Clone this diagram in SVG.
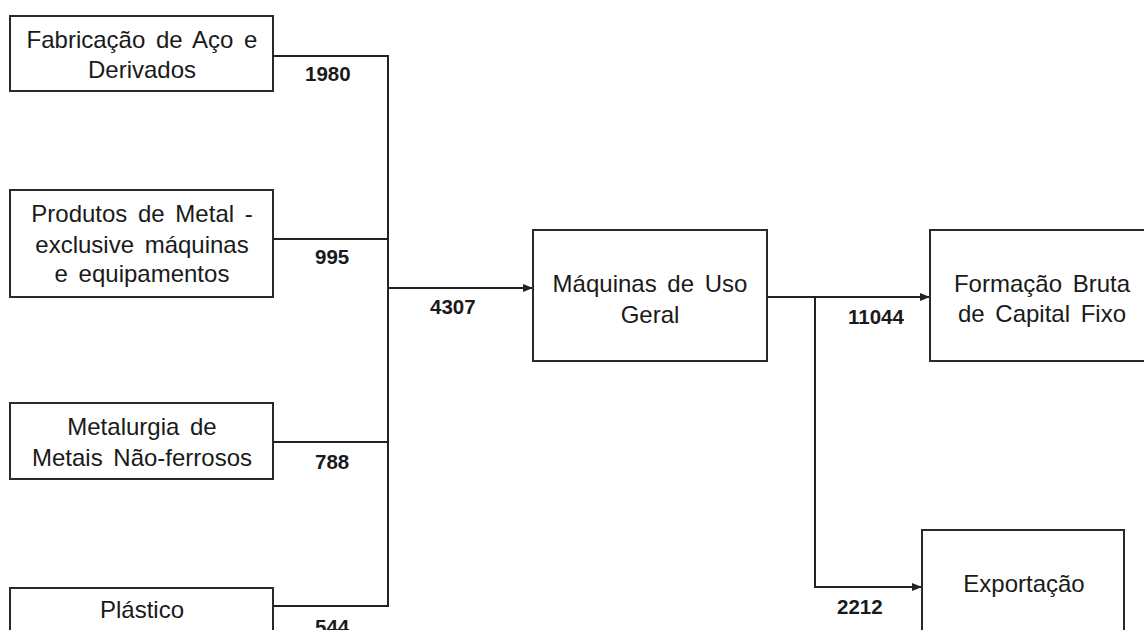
<svg xmlns="http://www.w3.org/2000/svg" width="1144" height="630" viewBox="0 0 1144 630">
<style>
.box{fill:#fff;stroke:#2a2a2a;stroke-width:2}
.t{font-family:"Liberation Sans",Arial,sans-serif;font-size:24px;fill:#1a1a1a;text-anchor:middle;word-spacing:4px}
.n{font-family:"Liberation Sans",Arial,sans-serif;font-size:20.5px;font-weight:bold;fill:#1a1a1a}
.c{fill:none;stroke:#222;stroke-width:2}
</style>
<defs>
<marker id="ah" markerWidth="10" markerHeight="10" refX="9" refY="5" orient="auto" markerUnits="userSpaceOnUse">
<path d="M0,1 L10,5 L0,9 Z" fill="#222"/>
</marker>
</defs>
<rect width="1144" height="630" fill="#fff"/>
<g id="connectors">
<path class="c" d="M273,56 H388 V606 H273"/>
<path class="c" d="M273,239 H388"/>
<path class="c" d="M273,442 H388"/>
<path class="c" d="M388,288 H532" marker-end="url(#ah)"/>
<path class="c" d="M767,297 H929" marker-end="url(#ah)"/>
<path class="c" d="M815,297 V587 H921" marker-end="url(#ah)"/>
<text class="n" x="305" y="81">1980</text>
<text class="n" x="315" y="264">995</text>
<text class="n" x="430" y="314">4307</text>
<text class="n" x="315" y="469">788</text>
<text class="n" x="315" y="634">544</text>
<text class="n" x="848" y="324">11044</text>
<text class="n" x="837" y="614">2212</text>
</g>
<g id="n1">
<rect class="box" x="10" y="16" width="263" height="75"/>
<text class="t" x="142" y="48">Fabricação de Aço e</text>
<text class="t" x="142" y="78">Derivados</text>
</g>
<g id="n2">
<rect class="box" x="10" y="190" width="263" height="107"/>
<text class="t" x="142" y="222">Produtos de Metal  -</text>
<text class="t" x="142" y="253">exclusive máquinas</text>
<text class="t" x="142" y="282">e equipamentos</text>
</g>
<g id="n3">
<rect class="box" x="10" y="403" width="263" height="76"/>
<text class="t" x="142" y="435">Metalurgia de</text>
<text class="t" x="142" y="466">Metais Não-ferrosos</text>
</g>
<g id="n4">
<rect class="box" x="10" y="588" width="263" height="60"/>
<text class="t" x="142" y="618">Plástico</text>
</g>
<g id="n5">
<rect class="box" x="533" y="230" width="234" height="131"/>
<text class="t" x="650" y="292">Máquinas de Uso</text>
<text class="t" x="650" y="323">Geral</text>
</g>
<g id="n6">
<rect class="box" x="930" y="230" width="226" height="131"/>
<text class="t" x="1042" y="292">Formação Bruta</text>
<text class="t" x="1042" y="322">de Capital Fixo</text>
</g>
<g id="n7">
<rect class="box" x="922" y="530" width="202" height="120"/>
<text class="t" x="1024" y="592">Exportação</text>
</g>
</svg>
